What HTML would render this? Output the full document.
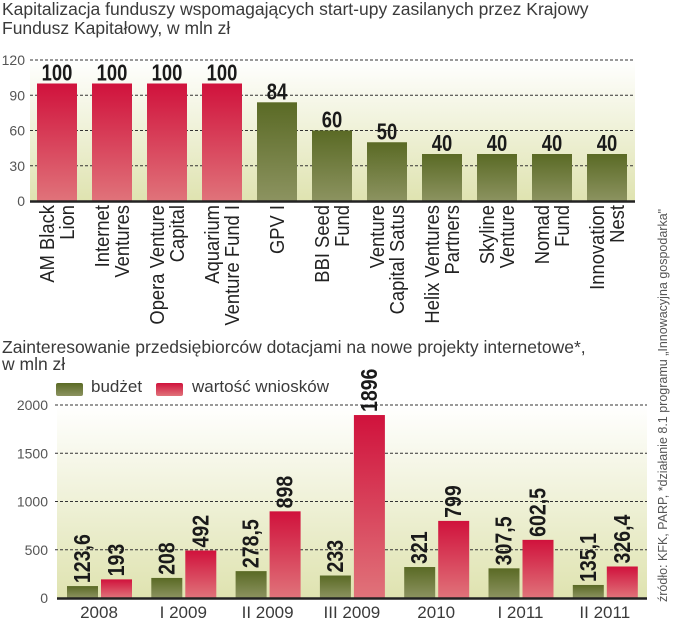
<!DOCTYPE html>
<html><head><meta charset="utf-8"><style>
html,body{margin:0;padding:0;background:#fff;}
svg{display:block;font-family:"Liberation Sans",sans-serif;}
.t{font-size:17.5px;fill:#3a3a3a;}
.lg{font-size:17px;fill:#3a3a3a;}
.tick{font-size:14px;fill:#555;}
.cat{font-size:20px;fill:#222;}
.val{font-weight:bold;font-size:23px;fill:#1a1a1a;}
.grid{stroke:#333;stroke-width:1;stroke-dasharray:3,2;}
</style></head><body>
<svg id="c" width="675" height="640" viewBox="0 0 675 640">
<defs>
<linearGradient id="bg" x1="0" y1="0" x2="0" y2="1"><stop offset="0" stop-color="#fff"/><stop offset="1" stop-color="#dfe3b0"/></linearGradient>
<linearGradient id="red" x1="0" y1="0" x2="0" y2="1"><stop offset="0" stop-color="#d0123c"/><stop offset="1" stop-color="#e0737a"/></linearGradient>
<linearGradient id="grn" x1="0" y1="0" x2="0" y2="1"><stop offset="0" stop-color="#5a6a25"/><stop offset="1" stop-color="#8c9360"/></linearGradient>
</defs>
<text class="t" x="2" y="15">Kapitalizacja funduszy wspomagających start-upy zasilanych przez Krajowy</text>
<text class="t" x="2" y="34">Fundusz Kapitałowy, w mln zł</text>
<text class="t" x="2" y="353">Zainteresowanie przedsiębiorców dotacjami na nowe projekty internetowe*,</text>
<text class="t" x="2" y="370">w mln zł</text>
<g>
<rect x="56" y="383" width="27" height="13" rx="2" fill="url(#grn)"/>
<text class="lg" x="91" y="392">budżet</text>
<rect x="156" y="383" width="27" height="13" rx="2" fill="url(#red)"/>
<text class="lg" x="192" y="392">wartość wniosków</text>
</g>
<text class="tick" transform="translate(667,602) rotate(-90)" style="font-size:12.5px">źródło: KFK, PARP, *działanie 8.1 programu „Innowacyjna gospodarka"</text>
<g id="top"></g><g id="bot"></g>
</svg>
<script>
const topCats=["AM Black|Lion","Internet|Ventures","Opera Venture|Capital","Aquarium|Venture Fund I","GPV I","BBI Seed|Fund","Venture|Capital Satus","Helix Ventures|Partners","Skyline|Venture","Nomad|Fund","Innovation|Nest"];
const topVals=[100,100,100,100,84,60,50,40,40,40,40];
const topTicks=[0,30,60,90,120];
const botCats=["2008","I 2009","II 2009","III 2009","2010","I 2011","II 2011"];
const budzet=[123.6,208,278.5,233,321,307.5,135.1];
const wnioski=[193,492,898,1896,799,602.5,326.4];
const botTicks=[0,500,1000,1500,2000];

const NS="http://www.w3.org/2000/svg";
function mk(p,tag,a,txt){const e=document.createElementNS(NS,tag);for(const k in a)e.setAttribute(k,a[k]);if(txt!==undefined)e.textContent=txt;p.appendChild(e);return e;}
const fmt=v=>String(v).replace('.',',');

// top chart
const T=document.getElementById('top');
const ty=v=>201-v*(141/120), tx=i=>37+i*55;
const tbg=mk(T,'rect',{x:30,y:60,width:605,height:141,fill:'url(#bg)'});

topTicks.forEach(t=>{
  const l=mk(T,'text',{class:'tick',x:25,y:ty(t)+5,'text-anchor':'end'},t);
  
  if(t>0){const g=mk(T,'line',{class:'grid',x1:30,x2:635,y1:ty(t),y2:ty(t)});
  }
});
topVals.forEach((v,i)=>{
  const r=mk(T,'rect',{x:tx(i),y:ty(v),width:40,height:201-ty(v),fill:i<4?'url(#red)':'url(#grn)'});
  
  const lb=mk(T,'text',{class:'val',transform:`translate(${tx(i)+20},${ty(v)-3}) scale(0.8,1)`,'text-anchor':'middle'},fmt(v));
  
  const lines=topCats[i].split('|');
  const g=mk(T,'text',{class:'cat',transform:`translate(${tx(i)+20},205) rotate(-90) scale(0.92,1)`,'text-anchor':'end'});
  
  lines.forEach((s,k)=>{const n=lines.length;mk(g,'tspan',{x:0,y:(k-(n-1)/2)*20+7},s);});
});
const ta=mk(T,'line',{x1:30,x2:635,y1:201.5,y2:201.5,stroke:'#222','stroke-width':2.5});


// bottom chart
const B=document.getElementById('bot');
const by=v=>598-v*(193/2000), bx=i=>67+i*84.3;
const bbg=mk(B,'rect',{x:57,y:405,width:590,height:193,fill:'url(#bg)'});

botTicks.forEach(t=>{
  const l=mk(B,'text',{class:'tick',x:48,y:by(t)+5,'text-anchor':'end'},t);
  
  if(t>0){const g=mk(B,'line',{class:'grid',x1:55,x2:647,y1:by(t),y2:by(t)});
  }
});
botCats.forEach((c,i)=>{
  [[budzet[i],'url(#grn)',0,'budzet'],[wnioski[i],'url(#red)',34,'wnioski']].forEach(([v,f,o,n])=>{
    const r=mk(B,'rect',{x:bx(i)+o,y:by(v),width:31,height:598-by(v),fill:f});
    
    const lb=mk(B,'text',{class:'val',transform:`translate(${bx(i)+o+23},${by(v)-3}) rotate(-90) scale(0.85,1)`},fmt(v));
    
  });
  const cl=mk(B,'text',{class:'lg',x:bx(i)+32,y:618,'text-anchor':'middle'},c);
  
});
const ba=mk(B,'line',{x1:57,x2:647,y1:598.5,y2:598.5,stroke:'#222','stroke-width':2.5});

</script>
</body></html>
